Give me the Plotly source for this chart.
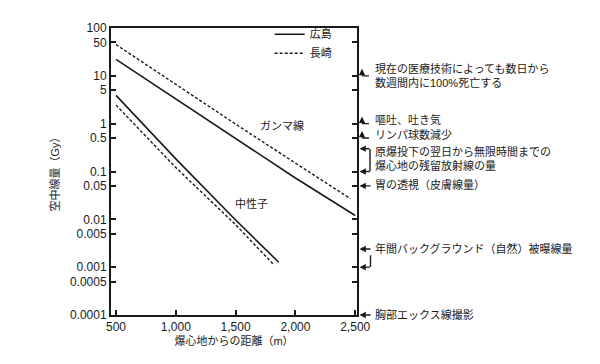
import math
import plotly.graph_objects as go

# ---- data ----
dist_hiro_gamma = [500, 1000, 1500, 2000, 2500]
dose_hiro_gamma = [22, 3.3, 0.49, 0.073, 0.012]
dist_naga_gamma = [500, 1000, 1500, 2000, 2460]
dose_naga_gamma = [45, 6.5, 0.98, 0.15, 0.027]
dist_hiro_neutron = [500, 1000, 1500, 1860]
dose_hiro_neutron = [3.9, 0.184, 0.0097, 0.00127]
dist_naga_neutron = [500, 1000, 1500, 1820]
dose_naga_neutron = [2.44, 0.121, 0.0077, 0.00112]

x_ticks = [500, 1000, 1500, 2000, 2500]
x_tick_text = ["500", "1,000", "1,500", "2,000", "2,500"]
y_ticks = [100, 50, 10, 5, 1, 0.5, 0.1, 0.05, 0.01, 0.005, 0.001, 0.0005, 0.0001]
y_tick_text = ["100", "50", "10", "5", "1", "0.5", "0.1", "0.05", "0.01", "0.005", "0.001", "0.0005", "0.0001"]

series_names = ["広島", "長崎"]

# right-side reference doses (Gy)
dose_death = 10
dose_vomit = 1
dose_lymph = 0.5
dose_residual = [0.1, 0.3]
dose_stomach = 0.05
dose_background = [0.001, 0.0024]
dose_chest = 0.0001

label_death = "現在の医療技術によっても数日から<br>数週間内に100%死亡する"
label_vomit = "嘔吐、吐き気"
label_lymph = "リンパ球数減少"
label_residual = "原爆投下の翌日から無限時間までの<br>爆心地の残留放射線の量"
label_stomach = "胃の透視（皮膚線量）"
label_background = "年間バックグラウンド（自然）被曝線量"
label_chest = "胸部エックス線撮影"
label_gamma = "ガンマ線"
label_neutron = "中性子"
pos_gamma = (1885, 0.88)
pos_neutron = (1635, 0.021)

FONT = "Liberation Sans, Arial, Noto Sans CJK JP, sans-serif"
INK = "#1a1a1a"

fig = go.Figure()
solid = dict(color=INK, width=1.6)
dashed = dict(color=INK, width=1.4, dash="3px,2px")
fig.add_trace(go.Scatter(x=dist_hiro_gamma, y=dose_hiro_gamma, mode="lines", line=solid,
                         name=series_names[0], legendgroup="h"))
fig.add_trace(go.Scatter(x=dist_naga_gamma, y=dose_naga_gamma, mode="lines", line=dashed,
                         name=series_names[1], legendgroup="n"))
fig.add_trace(go.Scatter(x=dist_hiro_neutron, y=dose_hiro_neutron, mode="lines", line=solid,
                         name=series_names[0], legendgroup="h", showlegend=False))
fig.add_trace(go.Scatter(x=dist_naga_neutron, y=dose_naga_neutron, mode="lines", line=dashed,
                         name=series_names[1], legendgroup="n", showlegend=False))

L = math.log10


def seg(val, x0, y0, x1, y1, head):
    """Line from tail (x0,y0) to tip (x1,y1): pixel offsets from the right axis at dose level val
    (screen y positive downward)."""
    fig.add_annotation(xref="paper", yref="y", x=1, y=L(val), xshift=x1, yshift=-y1,
                       ax=x0 - x1, ay=y0 - y1, axref="pixel", ayref="pixel",
                       text="", showarrow=True, arrowhead=2 if head else 0,
                       arrowsize=0.9, arrowwidth=1.4, arrowcolor=INK,
                       standoff=0, startstandoff=0, borderpad=0, font=dict(size=1))


def vseg(val_tip, val_tail, xoff):
    fig.add_annotation(xref="paper", yref="y", x=1, y=L(val_tip), xshift=xoff,
                       ax=0, ay=L(val_tail), axref="pixel", ayref="y",
                       text="", showarrow=True, arrowhead=0, arrowwidth=1.4, arrowcolor=INK,
                       standoff=0, startstandoff=0, borderpad=0, font=dict(size=1))


def label(val, txt, yshift=0):
    fig.add_annotation(xref="paper", yref="y", x=1, y=L(val), xshift=16, yshift=yshift,
                       xanchor="left", yanchor="middle", align="left", showarrow=False,
                       text=txt, font=dict(family=FONT, size=11, color=INK))


# "at or above" arrows
for v in (dose_death, dose_vomit, dose_lymph):
    seg(v, 5, 0, 5, -7, True)
    seg(v, 12.5, 0, 5, 0, False)
# residual bracket
seg(dose_residual[1], 13, 0, 2.5, 0, True)
seg(dose_residual[0], 13, 0, 2.5, 0, True)
vseg(dose_residual[0], dose_residual[1], 13)
# stomach, chest arrows
seg(dose_stomach, 14, 0, 2.5, 0, True)
seg(dose_chest, 14, 0, 2.5, 0, True)
# background bracket
seg(dose_background[1], 14, 0, 2.5, 0, True)
seg(dose_background[0], 13.5, 0, 2.5, 0, True)
seg(dose_background[0], 13.5, 0, 13.5, -12, False)

label(dose_death, label_death)
label(dose_vomit, label_vomit, 4)
label(dose_lymph, label_lymph, 4)
label(math.sqrt(dose_residual[0] * dose_residual[1]), label_residual, 1.5)
label(dose_stomach, label_stomach, 1)
label(dose_background[1], label_background)
label(dose_chest, label_chest, 1)

for (px, py), txt in ((pos_gamma, label_gamma), (pos_neutron, label_neutron)):
    fig.add_annotation(x=px, y=L(py), xref="x", yref="y", text=txt, showarrow=False,
                       font=dict(family=FONT, size=11, color=INK))

# the page body has an 8px default margin, so the figure is 8px smaller and margins shifted
fig.update_layout(
    width=592, height=356,
    margin=dict(l=103, r=242.5, t=13, b=49),
    paper_bgcolor="white", plot_bgcolor="white",
    font=dict(family=FONT, size=12, color=INK),
    showlegend=True,
    legend=dict(x=0.645, y=1.029, xanchor="left", yanchor="top", bgcolor="rgba(0,0,0,0)",
                font=dict(family=FONT, size=11, color=INK), itemwidth=30,
                tracegroupgap=0),
    xaxis=dict(range=[458, 2515], tickvals=x_ticks, ticktext=x_tick_text,
               ticks="inside", ticklen=5, tickwidth=1.5, tickcolor=INK,
               showline=True, linecolor=INK, linewidth=2, mirror=True,
               showgrid=False, zeroline=False,
               tickfont=dict(family=FONT, size=12, color=INK),
               title=dict(text="爆心地からの距離（m）", font=dict(family=FONT, size=11, color=INK),
                          standoff=2)),
    yaxis=dict(type="log", range=[-4, 2], tickvals=y_ticks, ticktext=y_tick_text,
               ticks="inside", ticklen=5, tickwidth=1.5, tickcolor=INK,
               showline=True, linecolor=INK, linewidth=2, mirror="ticks",
               showgrid=False, zeroline=False,
               tickfont=dict(family=FONT, size=12, color=INK),
               title=dict(text="空中線量（Gy）", font=dict(family=FONT, size=11, color=INK),
                          standoff=8)),
)

fig.write_html("out.html")
